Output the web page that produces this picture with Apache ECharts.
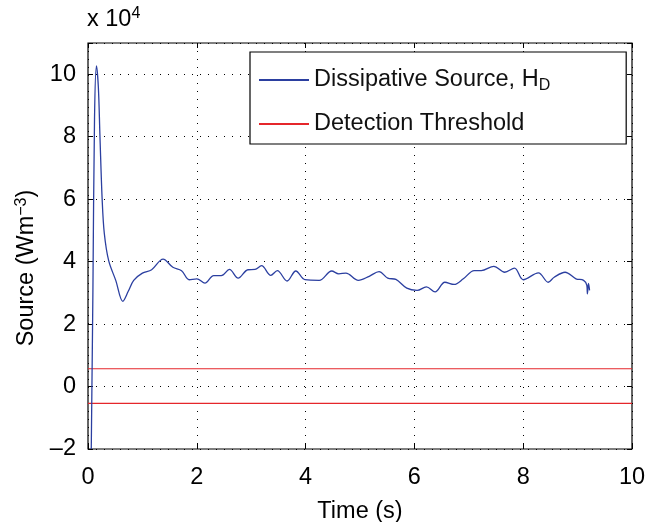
<!DOCTYPE html>
<html><head><meta charset="utf-8">
<script src="https://cdn.jsdelivr.net/npm/echarts@6/dist/echarts.min.js"></script>
<style>html,body{margin:0;padding:0;background:#fff}#c{width:646px;height:522px}</style>
</head><body><div id="c"></div>
<script>
// Time (s)
var timeS = [0.06,0.09,0.12,0.155,0.19,0.22,0.26,0.30,0.38,0.51,0.64,0.74,0.84,1.0,1.17,1.38,1.56,1.72,1.86,2.0,2.15,2.31,2.45,2.60,2.76,2.94,3.07,3.19,3.36,3.48,3.66,3.82,3.99,4.25,4.48,4.61,4.74,4.97,5.17,5.35,5.51,5.66,5.86,6.05,6.22,6.38,6.56,6.73,6.90,7.10,7.23,7.46,7.66,7.84,8.0,8.28,8.46,8.57,8.77,8.97,9.11,9.17,9.18,9.20,9.22];
// Dissipative source (x 10^4 W m^-3)
var sourceHD = [-2.0,3.0,8.6,10.27,9.6,8.0,6.0,4.9,4.03,3.4,2.73,3.05,3.4,3.63,3.74,4.08,3.82,3.71,3.42,3.45,3.31,3.55,3.55,3.75,3.47,3.74,3.75,3.87,3.56,3.71,3.38,3.70,3.42,3.40,3.70,3.61,3.63,3.40,3.53,3.68,3.47,3.43,3.15,3.08,3.19,3.03,3.34,3.27,3.45,3.71,3.71,3.85,3.66,3.79,3.42,3.64,3.34,3.50,3.66,3.45,3.40,3.24,2.97,3.30,3.08];
// Detection threshold levels
var thresholdUpper = 0.57;
var thresholdLower = -0.54;
var thresholdSpan = [0, 10];
var xTicks = [0,2,4,6,8,10];
var yTicks = [-2,0,2,4,6,8,10];

var FONT = 'Liberation Sans, Arial, sans-serif';
var FS = 23.5;
var hdData = timeS.map(function(t,i){return [t, sourceHD[i]];});
var upData = thresholdSpan.map(function(t){return [t, thresholdUpper];});
var loData = thresholdSpan.map(function(t){return [t, thresholdLower];});

var chart = echarts.init(document.getElementById('c'), null, {renderer:'canvas'});
var tickCol = '#000';
chart.setOption({
  animation:false,
  backgroundColor:'#fff',
  textStyle:{fontFamily:FONT},
  grid:{left:88,right:14,top:43,bottom:73,show:true,containLabel:false,outerBoundsMode:'none',borderColor:'#000',borderWidth:1.2,backgroundColor:'transparent'},
  xAxis:[{
    type:'value',min:0,max:10,interval:2,
    axisLine:{show:false,onZero:false},
    axisTick:{inside:true,length:5,lineStyle:{color:tickCol}},
    axisLabel:{color:'#000',fontSize:FS,fontFamily:FONT,margin:17,formatter:function(v){return xTicks.indexOf(v)>=0?String(v):'';}},
    splitLine:{show:true,lineStyle:{color:'#000',type:[1,7],width:1}},
    name:'Time (s)',nameLocation:'middle',nameGap:51,nameTextStyle:{color:'#000',fontSize:FS,fontFamily:FONT}
  },{
    type:'value',min:0,max:10,interval:2,position:'top',
    axisLine:{show:false,onZero:false},axisTick:{inside:true,length:5,lineStyle:{color:tickCol}},
    axisLabel:{show:false},splitLine:{show:false}
  }],
  yAxis:[{
    type:'value',min:-2,max:11,interval:2,
    axisLine:{show:false,onZero:false},
    axisTick:{inside:true,length:5,lineStyle:{color:tickCol}},
    axisLabel:{color:'#000',fontSize:FS,fontFamily:FONT,margin:12,formatter:function(v){return yTicks.indexOf(v)>=0?(v<0?'\u2013'+Math.abs(v):String(v)):'';}},
    splitLine:{show:true,lineStyle:{color:'#000',type:[1,7],width:1}},
    name:'Source (Wm{sup|\u22123})',nameLocation:'middle',nameGap:47,nameRotate:90,
    nameTextStyle:{color:'#000',fontSize:FS,fontFamily:FONT,padding:[0,44,0,0],
      rich:{sup:{fontSize:16,fontFamily:FONT,color:'#000',padding:[0,0,11,0]}}}
  },{
    type:'value',min:-2,max:11,interval:2,position:'right',
    axisLine:{show:false,onZero:false},axisTick:{inside:true,length:5,lineStyle:{color:tickCol}},
    axisLabel:{show:false},splitLine:{show:false}
  }],
  legend:{
    orient:'vertical',left:250,top:52,
    backgroundColor:'#fff',borderColor:'#000',borderWidth:1.2,
    padding:[14,76,7,9],itemGap:17,itemWidth:50,itemHeight:2,
    icon:'rect',
    data:['Dissipative Source, H_D','Detection Threshold'],
    formatter:function(n){return n==='Dissipative Source, H_D'?'Dissipative Source, H{sub|D}':n;},
    textStyle:{color:'#111',fontSize:FS,fontFamily:FONT,lineHeight:26,
      rich:{sub:{fontSize:16,fontFamily:FONT,color:'#111',lineHeight:26,padding:[12,0,0,0]}}}
  },
  graphic:[{type:'text',left:87,top:6,style:{text:'x 10{s|4}',font:FS+'px '+FONT,fill:'#000',
    rich:{s:{fontSize:16,fontFamily:FONT,fill:'#000',padding:[0,0,11,0]}}}}],
  series:[
    {name:'Dissipative Source, H_D',type:'line',data:hdData,smooth:0.35,showSymbol:false,clip:true,
     lineStyle:{color:'#2b3fa0',width:1.3},itemStyle:{color:'#2b3fa0'},z:3},
    {name:'Detection Threshold',type:'line',data:upData,showSymbol:false,lineStyle:{color:'#e5262b',width:1.1},itemStyle:{color:'#e5262b'},z:2},
    {name:'Detection Threshold',type:'line',data:loData,showSymbol:false,lineStyle:{color:'#e5262b',width:1.1},itemStyle:{color:'#e5262b'},z:2}
  ]
});
</script></body></html>
